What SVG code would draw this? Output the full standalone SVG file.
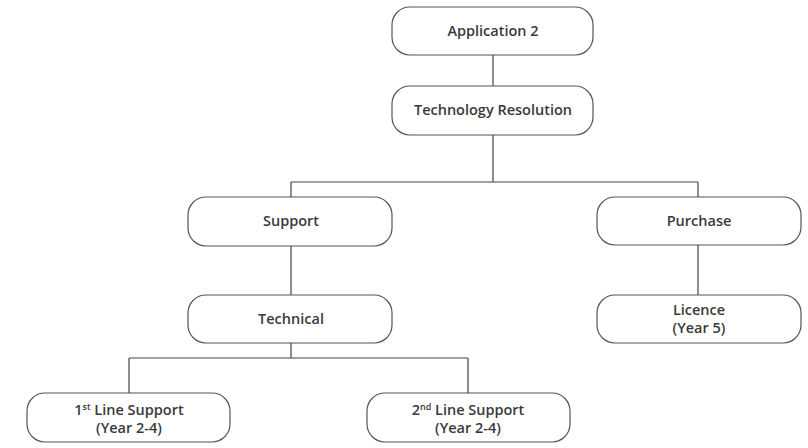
<svg xmlns="http://www.w3.org/2000/svg" width="808" height="448" viewBox="0 0 808 448">
<style>
.box{fill:#fff;stroke:#555;stroke-width:1.2}
.t{font-family:"Open Sans","Liberation Sans",sans-serif;font-size:14.5px;fill:#3a3a3a;text-anchor:middle;font-weight:600}
.sup{font-size:9px}
.c{fill:none;stroke:#444;stroke-width:1.2}
</style>
<rect width="808" height="448" fill="#fff"/>
<g id="connectors">
<path class="c" d="M493 55V86"/>
<path class="c" d="M493 135V182M291 182H698M291 182V197M698 182V197"/>
<path class="c" d="M291 246V295"/>
<path class="c" d="M698 245V295"/>
<path class="c" d="M291 343V358M129 358H468M129 358V393M468 358V393"/>
</g>
<g id="app2"><rect class="box" x="392" y="7" width="201" height="48" rx="18"/><text class="t" x="493" y="36">Application 2</text></g>
<g id="techres"><rect class="box" x="392" y="86" width="201" height="49" rx="18"/><text class="t" x="493" y="115">Technology Resolution</text></g>
<g id="support"><rect class="box" x="188" y="197" width="204" height="49" rx="18"/><text class="t" x="291" y="226">Support</text></g>
<g id="purchase"><rect class="box" x="597" y="197" width="204" height="48" rx="18"/><text class="t" x="699" y="226">Purchase</text></g>
<g id="technical"><rect class="box" x="188" y="295" width="204" height="48" rx="18"/><text class="t" x="291" y="324">Technical</text></g>
<g id="licence"><rect class="box" x="597" y="295" width="204" height="48" rx="18"/><text class="t" x="699" y="315">Licence</text><text class="t" x="699" y="333">(Year 5)</text></g>
<g id="line1"><rect class="box" x="27" y="393" width="203" height="49" rx="18"/><text class="t" x="129" y="415">1<tspan class="sup" dy="-5">st</tspan><tspan dy="5"> Line Support</tspan></text><text class="t" x="129" y="433">(Year 2-4)</text></g>
<g id="line2"><rect class="box" x="367" y="393" width="203" height="49" rx="18"/><text class="t" x="468" y="415">2<tspan class="sup" dy="-5">nd</tspan><tspan dy="5"> Line Support</tspan></text><text class="t" x="468" y="433">(Year 2-4)</text></g>
</svg>
